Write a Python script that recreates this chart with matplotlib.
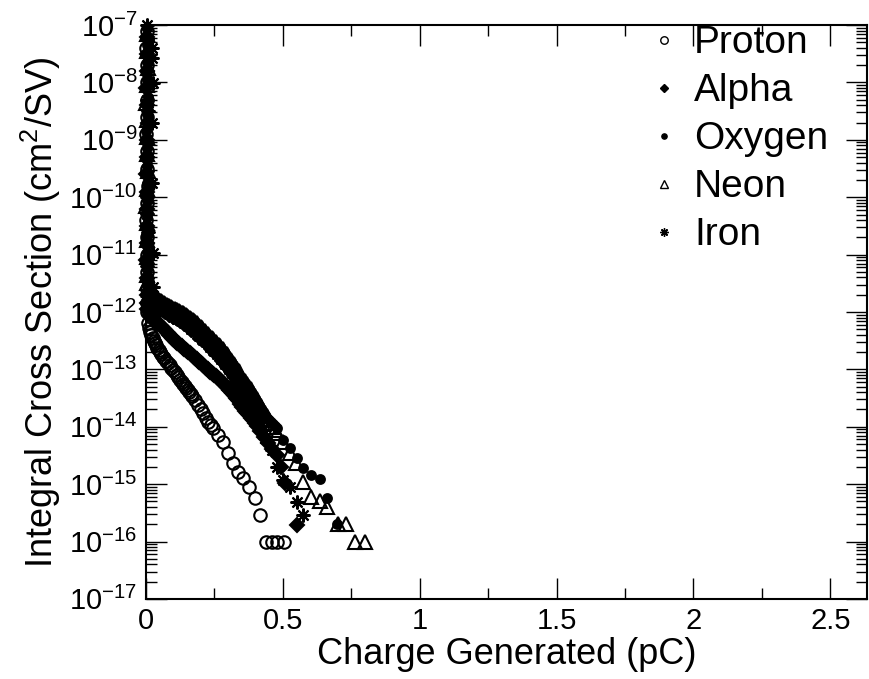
import numpy as np
import matplotlib
matplotlib.use("Agg")
import matplotlib.pyplot as plt
from matplotlib.ticker import MultipleLocator, LogLocator, NullFormatter

plt.rcParams["font.family"] = ["Liberation Sans", "DejaVu Sans"]
plt.rcParams["mathtext.fontset"] = "custom"
plt.rcParams["mathtext.rm"] = "Liberation Sans"
plt.rcParams["mathtext.it"] = "Liberation Sans:italic"
plt.rcParams["mathtext.bf"] = "Liberation Sans:bold"

# charge (pC) and log10(integral cross section)
PROTON_X = [0.003, 0.001, 0.004, 0.002, 0.005, 0.003, 0.001, 0.004, 0.002, 0.006, 0.003, 0.001, 0.004, 0.002, 0.005, 0.003, 0.004, 0.004,
            0.008, 0.012, 0.015, 0.02, 0.025, 0.029, 0.033, 0.038, 0.042, 0.047, 0.051, 0.056, 0.062, 0.067, 0.073, 0.08,
            0.086, 0.092, 0.099, 0.105, 0.112, 0.118, 0.125, 0.131, 0.136, 0.142, 0.147, 0.152, 0.157, 0.163, 0.168,
            0.179, 0.19, 0.2, 0.209, 0.218, 0.227, 0.236, 0.245, 0.264, 0.282, 0.30, 0.319, 0.337, 0.355, 0.377, 0.40, 0.418,
            0.44, 0.46, 0.48, 0.505]
PROTON_LOGY = [-7.1, -7.4, -7.7, -8.0, -8.3, -8.6, -8.9, -9.2, -9.5, -9.8, -10.1, -10.4, -10.7, -11.0, -11.3, -11.6, -11.85, -12.0,
               -12.2, -12.28, -12.35, -12.4, -12.45, -12.5, -12.54, -12.58, -12.62, -12.66, -12.7, -12.74, -12.78, -12.81, -12.85, -12.89,
               -12.93, -12.97, -13.01, -13.05, -13.1, -13.14, -13.18, -13.22, -13.25, -13.29, -13.32, -13.36, -13.39, -13.43, -13.46,
               -13.54, -13.62, -13.69, -13.76, -13.84, -13.92, -13.97, -14.02, -14.14, -14.26, -14.46, -14.63, -14.79, -14.89, -15.05, -15.24, -15.54,
               -16.0, -16.0, -16.0, -16.0]

ALPHA_X = [0.004, 0.002, 0.005, 0.001, 0.003, 0.006, 0.002, 0.004, 0.001, 0.005, 0.003, 0.002, 0.004, 0.001, 0.005, 0.003, 0.004,
           0.005, 0.01, 0.015, 0.022, 0.03, 0.04, 0.05, 0.06, 0.07, 0.08, 0.09, 0.1, 0.11, 0.12, 0.13, 0.14, 0.15, 0.16, 0.17, 0.18,
           0.19, 0.2, 0.21, 0.22, 0.23, 0.24, 0.25, 0.26, 0.27, 0.28, 0.29, 0.3, 0.31, 0.32, 0.33, 0.338,
           0.345, 0.352, 0.36, 0.368, 0.375, 0.382, 0.39, 0.398, 0.405, 0.418, 0.432, 0.447, 0.462, 0.48, 0.495, 0.509, 0.553]
ALPHA_LOGY = [-7.2, -7.5, -7.8, -8.1, -8.4, -8.7, -9.0, -9.3, -9.6, -9.9, -10.2, -10.5, -10.8, -11.1, -11.4, -11.7, -11.85,
              -11.95, -12.0, -12.05, -12.1, -12.15, -12.18, -12.22, -12.27, -12.32, -12.37, -12.42, -12.47, -12.52, -12.56, -12.6, -12.64, -12.68, -12.72, -12.76, -12.8,
              -12.85, -12.89, -12.93, -12.97, -13.02, -13.06, -13.1, -13.14, -13.18, -13.23, -13.28, -13.33, -13.38, -13.44, -13.5, -13.55,
              -13.6, -13.66, -13.72, -13.76, -13.8, -13.84, -13.88, -13.93, -13.98, -14.08, -14.18, -14.28, -14.38, -14.49, -14.7, -14.98, -15.71]
# in-between points of the dense alpha band
ALPHA_BAND_X = [0.035, 0.045, 0.055, 0.065, 0.075, 0.085, 0.095, 0.105, 0.115, 0.125, 0.135, 0.145, 0.155, 0.165, 0.175, 0.185,
                0.195, 0.205, 0.215, 0.225, 0.235, 0.245, 0.255, 0.265, 0.275, 0.285, 0.295, 0.305, 0.315, 0.325, 0.334]
ALPHA_BAND_LOGY = [-12.165, -12.2, -12.245, -12.295, -12.345, -12.395, -12.445, -12.495, -12.54, -12.58, -12.62, -12.66, -12.7, -12.74, -12.78, -12.825,
                   -12.87, -12.91, -12.95, -12.995, -13.04, -13.08, -13.12, -13.16, -13.205, -13.255, -13.305, -13.355, -13.41, -13.47, -13.525]

OXYGEN_X = [0.003, 0.005, 0.002, 0.004, 0.006, 0.003, 0.001, 0.005, 0.002, 0.004, 0.006, 0.003, 0.001, 0.005, 0.002, 0.004,
            0.01, 0.02, 0.03, 0.04, 0.05, 0.06, 0.07, 0.08, 0.09, 0.1, 0.11, 0.12, 0.13, 0.14, 0.15, 0.16, 0.17, 0.18, 0.19, 0.2,
            0.21, 0.22, 0.23, 0.24, 0.25, 0.26, 0.27, 0.28, 0.29, 0.3, 0.31, 0.32, 0.33, 0.338,
            0.345, 0.352, 0.36, 0.368, 0.375, 0.382, 0.39, 0.398, 0.405, 0.412, 0.42, 0.428, 0.435, 0.442, 0.45, 0.458, 0.465, 0.472,
            0.48, 0.502, 0.527, 0.553, 0.575, 0.604, 0.634, 0.663, 0.696]
OXYGEN_LOGY = [-7.05, -7.35, -7.65, -7.95, -8.25, -8.55, -8.85, -9.15, -9.45, -9.75, -10.05, -10.35, -10.65, -10.95, -11.25, -11.55,
               -11.68, -11.73, -11.78, -11.82, -11.86, -11.89, -11.92, -11.95, -11.97, -12.0, -12.02, -12.05, -12.08, -12.11, -12.14, -12.18, -12.22, -12.26, -12.3, -12.34,
               -12.39, -12.43, -12.48, -12.53, -12.58, -12.63, -12.68, -12.73, -12.79, -12.85, -12.91, -12.97, -13.04, -13.1,
               -13.17, -13.22, -13.27, -13.32, -13.37, -13.42, -13.48, -13.54, -13.59, -13.64, -13.7, -13.75, -13.8, -13.85, -13.89, -13.92, -13.95, -13.98,
               -14.02, -14.23, -14.37, -14.54, -14.72, -14.84, -14.91, -15.24, -15.69]

NEON_X = [0.002, 0.004, 0.006, 0.003, 0.001, 0.005, 0.002, 0.004, 0.006, 0.003, 0.001, 0.005, 0.002, 0.004, 0.003, 0.005,
          0.01, 0.02, 0.03, 0.04, 0.05, 0.06, 0.07, 0.08, 0.09, 0.1, 0.11, 0.12, 0.13, 0.14, 0.15, 0.16, 0.17, 0.18, 0.19, 0.2,
          0.21, 0.22, 0.23, 0.24, 0.25, 0.26, 0.27, 0.28, 0.29, 0.3, 0.31, 0.32, 0.33, 0.338,
          0.345, 0.352, 0.36, 0.368, 0.375, 0.382, 0.39, 0.398, 0.405, 0.412, 0.42, 0.428, 0.435, 0.442, 0.45, 0.458, 0.465, 0.472,
          0.48, 0.502, 0.527, 0.549, 0.575, 0.604, 0.634, 0.663, 0.70, 0.729, 0.762, 0.799]
NEON_LOGY = [-7.15, -7.45, -7.75, -8.05, -8.35, -8.65, -8.95, -9.25, -9.55, -9.85, -10.15, -10.45, -10.75, -11.05, -11.35, -11.5,
             -11.62, -11.67, -11.72, -11.76, -11.8, -11.83, -11.86, -11.89, -11.91, -11.94, -11.96, -11.98, -12.01, -12.04, -12.07, -12.1, -12.14, -12.18, -12.22, -12.26,
             -12.31, -12.36, -12.41, -12.45, -12.5, -12.55, -12.6, -12.65, -12.71, -12.77, -12.83, -12.9, -12.97, -13.03,
             -13.1, -13.15, -13.2, -13.25, -13.3, -13.35, -13.41, -13.46, -13.52, -13.58, -13.64, -13.7, -13.76, -13.82, -13.88, -13.94, -14.0, -14.05,
             -14.11, -14.26, -14.45, -14.63, -14.96, -15.22, -15.3, -15.4, -15.7, -15.7, -16.0, -16.0]

IRON_X = [0.004, 0.003, 0.022, 0.022, 0.005, 0.024, 0.002, 0.006, 0.022, 0.004, 0.003, 0.005, 0.022, 0.002, 0.004, 0.006, 0.003,
          0.024, 0.005, 0.004, 0.024,
          0.01, 0.02, 0.03, 0.04, 0.05, 0.06, 0.07, 0.08, 0.09, 0.1, 0.11, 0.12, 0.13, 0.14, 0.15, 0.16, 0.17, 0.18, 0.19, 0.2,
          0.21, 0.22, 0.23, 0.24, 0.25, 0.26, 0.27, 0.28, 0.29, 0.3, 0.31, 0.32, 0.33, 0.338,
          0.345, 0.352, 0.36, 0.368, 0.375, 0.382, 0.39, 0.398, 0.405, 0.412, 0.42, 0.428,
          0.436, 0.46, 0.48, 0.502, 0.527, 0.553, 0.575]
IRON_LOGY = [-7.0, -7.25, -7.4, -7.57, -7.8, -8.01, -8.3, -8.5, -8.71, -9.0, -9.3, -9.55, -9.75, -10.0, -10.3, -10.6, -10.8,
             -10.97, -11.2, -11.4, -11.56,
             -11.72, -11.78, -11.83, -11.88, -11.92, -11.96, -11.99, -12.02, -12.05, -12.08, -12.1, -12.13, -12.16, -12.2, -12.23, -12.27, -12.31, -12.35, -12.4, -12.44,
             -12.49, -12.53, -12.58, -12.63, -12.68, -12.73, -12.79, -12.84, -12.9, -12.96, -13.03, -13.1, -13.17, -13.23,
             -13.3, -13.35, -13.4, -13.45, -13.5, -13.55, -13.6, -13.66, -13.72, -13.8, -13.92, -14.05,
             -14.2, -14.4, -14.7, -14.93, -15.05, -15.31, -15.54]

# in-between points of the dense upper band (oxygen / neon / iron share these charges)
BAND_X = [0.015, 0.025, 0.035, 0.045, 0.055, 0.065, 0.075, 0.085, 0.095, 0.105, 0.115, 0.125, 0.135, 0.145, 0.155, 0.165,
          0.175, 0.185, 0.195, 0.205, 0.215, 0.225, 0.235, 0.245, 0.255, 0.265, 0.275, 0.285, 0.295, 0.305, 0.315, 0.325, 0.334]
OXYGEN_BAND_LOGY = [-11.705, -11.755, -11.8, -11.84, -11.875, -11.905, -11.935, -11.96, -11.985, -12.01, -12.035, -12.065, -12.095, -12.125, -12.16, -12.2,
                    -12.24, -12.28, -12.32, -12.365, -12.41, -12.455, -12.505, -12.555, -12.605, -12.655, -12.705, -12.76, -12.82, -12.88, -12.94, -13.005, -13.07]
NEON_BAND_LOGY = [-11.645, -11.695, -11.74, -11.78, -11.815, -11.845, -11.875, -11.9, -11.925, -11.95, -11.97, -11.995, -12.025, -12.055, -12.085, -12.12,
                  -12.16, -12.2, -12.24, -12.285, -12.335, -12.385, -12.43, -12.475, -12.525, -12.575, -12.625, -12.68, -12.74, -12.8, -12.865, -12.935, -13.0]
IRON_BAND_LOGY = [-11.75, -11.805, -11.855, -11.9, -11.94, -11.975, -12.005, -12.035, -12.065, -12.09, -12.115, -12.145, -12.18, -12.215, -12.25, -12.29,
                  -12.33, -12.375, -12.42, -12.465, -12.51, -12.555, -12.605, -12.655, -12.705, -12.76, -12.815, -12.87, -12.93, -12.995, -13.065, -13.135, -13.2]

SERIES = [
    ("Proton", PROTON_X, PROTON_LOGY, dict(marker="o", ms=9.0, mfc="none")),
    ("Alpha", ALPHA_X + ALPHA_BAND_X, ALPHA_LOGY + ALPHA_BAND_LOGY, dict(marker="D", ms=7.5, mfc="black")),
    ("Oxygen", OXYGEN_X + BAND_X, OXYGEN_LOGY + OXYGEN_BAND_LOGY, dict(marker="o", ms=6.3, mfc="black")),
    ("Neon", NEON_X + BAND_X, NEON_LOGY + NEON_BAND_LOGY, dict(marker="^", ms=10.0, mfc="none")),
    ("Iron", IRON_X + BAND_X, IRON_LOGY + IRON_BAND_LOGY, dict(marker=(8, 2, 0), ms=10.0, mfc="black")),
]

fig = plt.figure(figsize=(8.69, 6.79), dpi=100)
ax = fig.add_axes([0.168, 0.118, 0.830, 0.845])

for name, xs, ly, st in SERIES:
    ax.plot(xs, 10.0 ** np.array(ly), ls="none", color="black", mec="black", mew=1.5,
            label=name, clip_on=False, **st)

ax.set_yscale("log")
ax.set_xlim(0, 2.635)
ax.set_ylim(1e-17, 1e-7)

ax.xaxis.set_major_locator(MultipleLocator(0.5))
ax.xaxis.set_minor_locator(MultipleLocator(0.25))
ax.yaxis.set_major_locator(LogLocator(base=10, numticks=20))
ax.yaxis.set_minor_locator(LogLocator(base=10, subs=np.arange(2, 10), numticks=20))
ax.yaxis.set_minor_formatter(NullFormatter())
ax.set_xticks([0, 0.5, 1, 1.5, 2, 2.5])
ax.set_xticklabels(["0", "0.5", "1", "1.5", "2", "2.5"])

ax.tick_params(which="both", direction="in", top=True, right=True, width=1.0)
ax.tick_params(which="major", length=15, labelsize=21, pad=6)
ax.tick_params(which="minor", length=8)
for s in ax.spines.values():
    s.set_linewidth(1.5)

ax.set_xlabel("Charge Generated (pC)", fontsize=26, labelpad=1)
ax.set_ylabel("Integral Cross Section (cm$^2$/SV)", fontsize=26, labelpad=4)

leg = ax.legend(loc="upper left", bbox_to_anchor=(0.696, 1.0), frameon=False, fontsize=28,
                markerscale=0.6, handlelength=0.8, handletextpad=0.38, labelspacing=0.31,
                borderpad=0, borderaxespad=0)
for h in leg.legend_handles:
    h.set_markeredgewidth(1.0)

fig.savefig("out.png", dpi=100, facecolor="white")
